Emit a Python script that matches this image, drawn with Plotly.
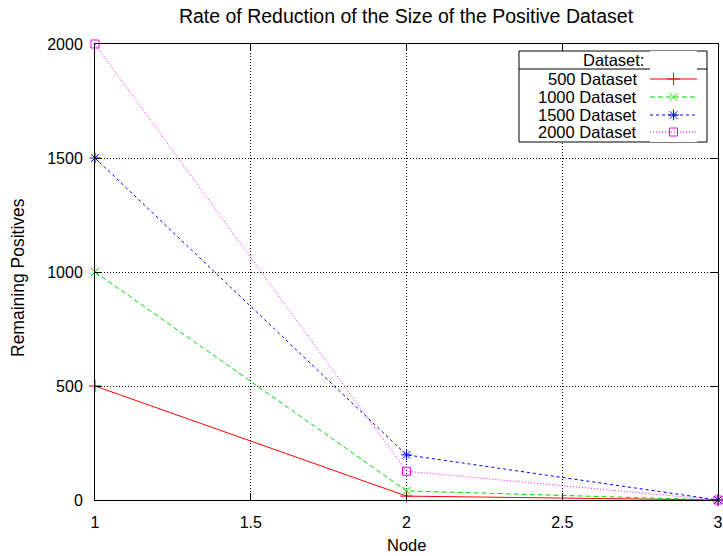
import plotly.graph_objects as go

# ---- data ----
nodes = [1, 2, 3]
series_names = ["500 Dataset", "1000 Dataset", "1500 Dataset", "2000 Dataset"]
vals_500 = [500, 17, 0]
vals_1000 = [1000, 40, 0]
vals_1500 = [1500, 198, 0]
vals_2000 = [2000, 126, 0]
x_ticks = [1, 1.5, 2, 2.5, 3]
x_ticktext = ["1", "1.5", "2", "2.5", "3"]
y_ticks = [0, 500, 1000, 1500, 2000]
y_ticktext = ["0", "500", "1000", "1500", "2000"]

series_values = [vals_500, vals_1000, vals_1500, vals_2000]
colors = ["#ff0000", "#00dd00", "#0000ff", "#ff00ff"]
dashes = ["solid", "5px,3px", "3px,3px", "1px,2px"]
symbols = ["cross-thin-open", "x-thin-open", "asterisk-open", "square-open"]
msizes = [9, 8, 9, 8]

FONT = "Liberation Sans, Arial, Helvetica, sans-serif"
W, H = 723, 556
L, R, T, B = 95, 5, 44, 56
PW, PH = W - L - R, H - T - B
X0, X1, Y0, Y1 = 1, 3, 0, 2000


def px_x(p):
    return (p - L) / PW


def px_y(p):
    return (H - B - p) / PH


def dx(p):
    return X0 + (X1 - X0) * px_x(p)


def dy(p):
    return Y0 + (Y1 - Y0) * px_y(p)


fig = go.Figure()
for name, ys, c, d, s, ms in zip(series_names, series_values, colors, dashes, symbols, msizes):
    fig.add_trace(go.Scatter(
        x=nodes, y=ys, name=name, mode="lines+markers",
        line=dict(color=c, width=1, dash=d),
        marker=dict(symbol=s, size=ms, color=c, line=dict(color=c, width=1)),
        cliponaxis=False, showlegend=False,
    ))

# ---- custom gnuplot-style legend ----
leg_left, leg_right, leg_top, leg_bottom, leg_head = 519, 707, 51, 142, 69
row_y = [79, 97, 115, 132]
sample_x0, sample_x1 = 650, 697
text_right = 639

for name, c, d, s, ms, ry in zip(series_names, colors, dashes, symbols, msizes, row_y):
    fig.add_trace(go.Scatter(
        x=[0, 1], y=[ry, ry], mode="lines",
        line=dict(color=c, width=1, dash=d),
        xaxis="x2", yaxis="y2", showlegend=False, hoverinfo="skip", cliponaxis=False,
    ))
    fig.add_trace(go.Scatter(
        x=[0.5], y=[ry], mode="markers",
        marker=dict(symbol=s, size=ms, color=c, line=dict(color=c, width=1)),
        xaxis="x2", yaxis="y2", showlegend=False, hoverinfo="skip", cliponaxis=False,
    ))
    fig.add_annotation(x=px_x(text_right), y=px_y(ry), xref="paper", yref="paper",
                       text=name, showarrow=False, xanchor="right", yanchor="middle",
                       font=dict(family=FONT, size=16.5, color="black"))

fig.add_annotation(x=px_x((leg_left + leg_right) / 2), y=px_y((leg_top + leg_head) / 2),
                   xref="paper", yref="paper", text="Dataset:", showarrow=False,
                   xanchor="center", yanchor="middle",
                   font=dict(family=FONT, size=16.5, color="black"))

fig.add_shape(type="rect", xref="x", yref="y",
              x0=dx(leg_left), x1=dx(leg_right), y0=dy(leg_bottom), y1=dy(leg_top),
              line=dict(color="black", width=1), fillcolor="white", layer="between")
fig.add_shape(type="line", xref="x", yref="y",
              x0=dx(leg_left), x1=dx(leg_right), y0=dy(leg_head), y1=dy(leg_head),
              line=dict(color="black", width=1), layer="between")

# axis titles
fig.add_annotation(x=px_x(406), y=px_y(545), xref="paper", yref="paper", text="Node",
                   showarrow=False, xanchor="center", yanchor="middle",
                   font=dict(family=FONT, size=16.5, color="black"))
fig.add_annotation(x=px_x(18), y=px_y(278), xref="paper", yref="paper",
                   text="Remaining Positives", textangle=-90,
                   showarrow=False, xanchor="center", yanchor="middle",
                   font=dict(family=FONT, size=17.5, color="black"))

axis_common = dict(
    showline=True, linecolor="black", linewidth=1, mirror="ticks",
    ticks="inside", ticklen=7, tickcolor="black", tickwidth=1,
    showgrid=True, gridcolor="black", gridwidth=1, griddash="1px,2px",
    zeroline=False, tickfont=dict(family=FONT, size=16, color="black"),
)

fig.update_layout(
    width=W, height=H,
    margin=dict(l=L, r=R, t=T, b=B, autoexpand=False),
    paper_bgcolor="white", plot_bgcolor="white",
    title=dict(text="Rate of Reduction of the Size of the Positive Dataset",
               x=px_x(406), xref="paper", xanchor="center",
               y=1 - 16 / H, yanchor="middle",
               font=dict(family=FONT, size=19.5, color="black")),
    xaxis=dict(range=[X0, X1], tickvals=x_ticks, ticktext=x_ticktext,
               ticklabelstandoff=8, **axis_common),
    yaxis=dict(range=[Y0, Y1], tickvals=y_ticks, ticktext=y_ticktext,
               ticklabelstandoff=8, **axis_common),
    xaxis2=dict(domain=[px_x(sample_x0), px_x(sample_x1)], range=[0, 1],
                anchor="y2", visible=False, fixedrange=True),
    yaxis2=dict(domain=[px_y(leg_bottom), px_y(leg_top)], range=[leg_bottom, leg_top],
                anchor="x2", visible=False, fixedrange=True),
    showlegend=False,
)

fig.write_html("out.html")
